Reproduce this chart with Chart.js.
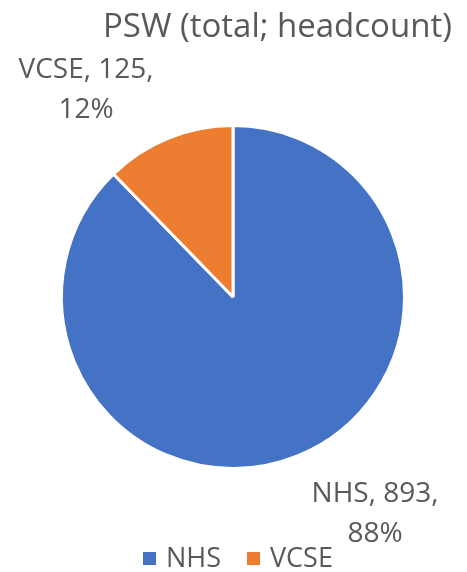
<!DOCTYPE html>
<html>
<head>
<meta charset="utf-8">
<script src="https://cdn.jsdelivr.net/npm/chart.js@4"></script>
<style>
    html, body { margin: 0; padding: 0; background: #fff; }
    #pswChart { display: block; }
</style>
</head>
<body>
<canvas id="pswChart" width="467" height="572"></canvas>
<script>
const chartTitle = 'PSW (total; headcount)';
const sectors = ['NHS', 'VCSE'];
const headcounts = [893, 125];
const sectorColors = ['#4472C4', '#ED7D31'];

const textColor = '#595959';
const fontFamily = '"Open Sans", "Liberation Sans", sans-serif';

// title, data labels and legend drawn on top of the pie
const pieText = {
    id: 'pieText',
    afterDraw(chart) {
        const ctx = chart.ctx;
        const total = headcounts.reduce((sum, v) => sum + v, 0);
        ctx.save();
        ctx.fillStyle = textColor;
        ctx.textBaseline = 'alphabetic';

        ctx.font = '33px ' + fontFamily;
        ctx.textAlign = 'left';
        ctx.fillText(chartTitle, 103, 37);

        ctx.font = '28px ' + fontFamily;
        ctx.textAlign = 'center';
        const labelSpots = [[375, 502], [86, 78]];
        sectors.forEach((name, i) => {
            const pct = Math.round(headcounts[i] / total * 100);
            const [x, y] = labelSpots[i];
            ctx.fillText(`${name}, ${headcounts[i]},`, x, y);
            ctx.fillText(`${pct}%`, x, y + 40);
        });

        ctx.font = '27px ' + fontFamily;
        ctx.textAlign = 'left';
        const legendX = [143, 247];
        sectors.forEach((name, i) => {
            ctx.fillStyle = sectorColors[i];
            ctx.fillRect(legendX[i], 552, 13, 13);
            ctx.fillStyle = textColor;
            ctx.fillText(name, legendX[i] + 23, 567);
        });
        ctx.restore();
    }
};

const ctx = document.getElementById('pswChart').getContext('2d');
new Chart(ctx, {
    type: 'pie',
    data: {
        labels: sectors,
        datasets: [{
            label: chartTitle,
            data: headcounts,
            backgroundColor: sectorColors,
            borderColor: '#ffffff',
            borderWidth: 3
        }]
    },
    options: {
        responsive: false,
        animation: false,
        layout: {
            padding: { left: 60, right: 61, top: 124, bottom: 102 }
        },
        plugins: {
            legend: { display: false },
            title: { display: false },
            tooltip: { enabled: false }
        }
    },
    plugins: [pieText]
});
</script>
</body>
</html>
